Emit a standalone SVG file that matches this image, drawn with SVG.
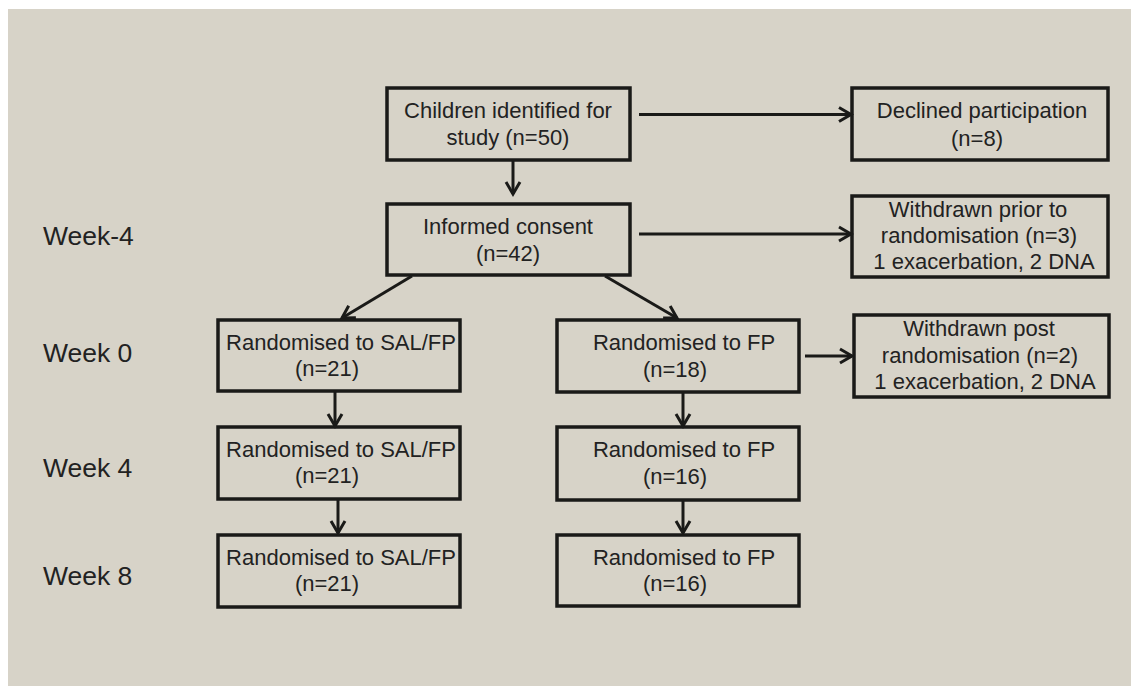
<svg xmlns="http://www.w3.org/2000/svg" width="1131" height="686" viewBox="0 0 1131 686">
<defs>
<marker id="arr" markerUnits="userSpaceOnUse" markerWidth="20" markerHeight="20" viewBox="-14 -10 16 20" refX="0" refY="0" orient="auto">
<path d="M -12 -7 L 0 0 L -12 7" fill="none" stroke="#1a1a18" stroke-width="3" stroke-linejoin="miter"/>
</marker>
<style>
.box{fill:none;stroke:#1a1a18;stroke-width:3.5}
.t{font-family:"Liberation Sans",Arial,sans-serif;font-size:22px;fill:#222;text-anchor:middle}
.wk{font-family:"Liberation Sans",Arial,sans-serif;font-size:26.5px;fill:#222}
.c{fill:none;stroke:#1a1a18;stroke-width:3;marker-end:url(#arr)}
</style>
</defs>
<rect x="0" y="0" width="1131" height="686" fill="#ffffff"/>
<rect x="8" y="9" width="1123" height="677" fill="#d7d3c8"/>

<g id="week-labels">
<text class="wk" x="43" y="245">Week-4</text>
<text class="wk" x="43" y="362">Week 0</text>
<text class="wk" x="43" y="477">Week 4</text>
<text class="wk" x="43" y="585">Week 8</text>
</g>

<g id="connectors">
<line class="c" x1="639" y1="114.5" x2="851" y2="114.5"/>
<line class="c" x1="513" y1="160" x2="513" y2="194"/>
<line class="c" x1="639" y1="234" x2="851" y2="234"/>
<line class="c" x1="412" y1="276" x2="342" y2="318"/>
<line class="c" x1="605" y1="276" x2="677" y2="318"/>
<line class="c" x1="805" y1="356" x2="852" y2="356"/>
<line class="c" x1="335" y1="391" x2="335" y2="426"/>
<line class="c" x1="338" y1="499" x2="338" y2="533"/>
<line class="c" x1="683" y1="392" x2="683" y2="426"/>
<line class="c" x1="683" y1="500" x2="683" y2="533"/>
</g>

<g id="children">
<rect class="box" x="387" y="88" width="243" height="72"/>
<text class="t" x="508" y="118">Children identified for</text>
<text class="t" x="508" y="145">study (n=50)</text>
</g>

<g id="declined">
<rect class="box" x="852" y="88" width="256" height="72"/>
<text class="t" x="982" y="118">Declined participation</text>
<text class="t" x="977" y="146">(n=8)</text>
</g>

<g id="consent">
<rect class="box" x="387" y="204" width="243" height="71"/>
<text class="t" x="508" y="234">Informed consent</text>
<text class="t" x="508" y="261">(n=42)</text>
</g>

<g id="withdrawn-prior">
<rect class="box" x="852" y="196" width="256" height="81"/>
<text class="t" x="978" y="217">Withdrawn prior to</text>
<text class="t" x="979" y="243">randomisation (n=3)</text>
<text class="t" x="984" y="269">1 exacerbation, 2 DNA</text>
</g>

<g id="sal1">
<rect class="box" x="218" y="320" width="242" height="71"/>
<text class="t" x="341" y="350">Randomised to SAL/FP</text>
<text class="t" x="327" y="376">(n=21)</text>
</g>

<g id="fp1">
<rect class="box" x="557" y="320" width="242" height="72"/>
<text class="t" x="684" y="350">Randomised to FP</text>
<text class="t" x="675" y="377">(n=18)</text>
</g>

<g id="withdrawn-post">
<rect class="box" x="854" y="315" width="255" height="82"/>
<text class="t" x="979" y="336">Withdrawn post</text>
<text class="t" x="980" y="363">randomisation (n=2)</text>
<text class="t" x="985" y="389">1 exacerbation, 2 DNA</text>
</g>

<g id="sal2">
<rect class="box" x="218" y="427" width="242" height="72"/>
<text class="t" x="341" y="457">Randomised to SAL/FP</text>
<text class="t" x="327" y="483">(n=21)</text>
</g>

<g id="fp2">
<rect class="box" x="557" y="427" width="242" height="73"/>
<text class="t" x="684" y="457">Randomised to FP</text>
<text class="t" x="675" y="484">(n=16)</text>
</g>

<g id="sal3">
<rect class="box" x="218" y="535" width="242" height="72"/>
<text class="t" x="341" y="565">Randomised to SAL/FP</text>
<text class="t" x="327" y="591">(n=21)</text>
</g>

<g id="fp3">
<rect class="box" x="557" y="535" width="242" height="71"/>
<text class="t" x="684" y="565">Randomised to FP</text>
<text class="t" x="675" y="591">(n=16)</text>
</g>
</svg>
